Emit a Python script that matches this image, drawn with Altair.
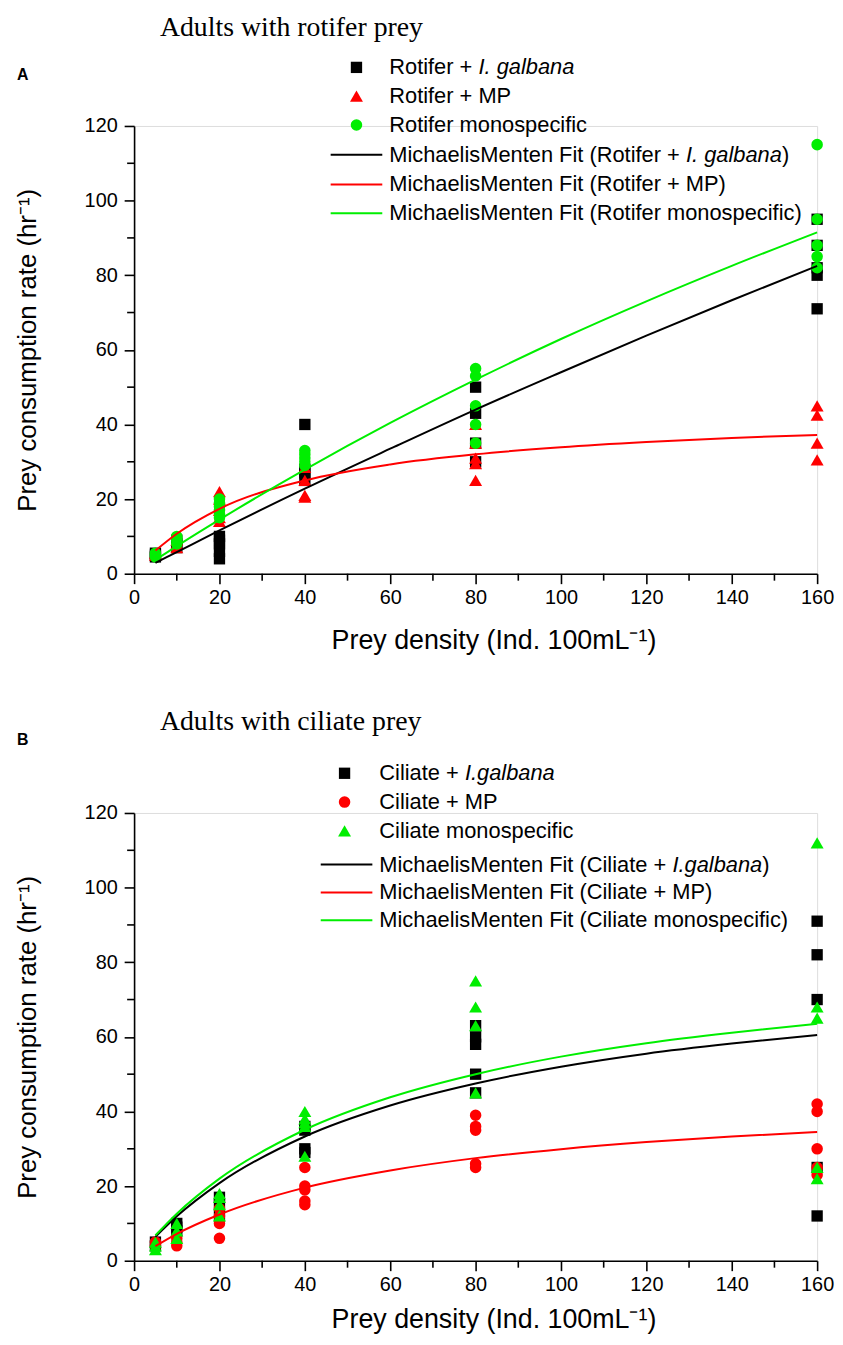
import altair as alt
import pandas as pd

# ---------------- Panel A: adults with rotifer prey ----------------
rot_gal_x = [5, 5, 5, 10, 10, 10, 20, 20, 20, 20, 20, 40, 40, 40, 40, 80, 80, 80, 80, 160, 160, 160, 160, 160]
rot_gal_y = [4.5, 5, 5.5, 7, 8, 9, 4, 6, 8, 9, 10, 40, 28, 27, 25, 50, 43, 35, 30, 95, 88, 82, 80, 71]

rot_mp_x = [5, 5, 10, 10, 10, 20, 20, 20, 20, 20, 40, 40, 40, 40, 80, 80, 80, 80, 80, 160, 160, 160, 160]
rot_mp_y = [5, 5.5, 7, 8, 9, 22, 20, 17, 15, 14, 28.5, 25, 21, 20.5, 40, 35, 31, 29.5, 25, 45, 42.5, 35, 30.5]

rot_mono_x = [5, 5, 5, 10, 10, 10, 10, 20, 20, 20, 20, 20, 20, 40, 40, 40, 40, 40, 80, 80, 80, 80, 80, 160, 160, 160, 160, 160]
rot_mono_y = [4.5, 5, 5.5, 8, 9, 9.5, 10, 15, 16, 17, 18, 19, 20, 29, 30, 31, 32, 33, 55, 53, 45, 40, 35, 115, 95, 88, 85, 82]

# Michaelis-Menten fit curves
fit_x = [5, 10, 20, 40, 60, 80, 100, 120, 140, 160]
rot_gal_fit = [2.9, 5.8, 11.6, 22.8, 33.5, 44, 54, 63.8, 73.3, 82.5]
rot_mp_fit = [6.2, 10.7, 17.4, 25, 29.3, 32, 33.9, 35.3, 36.4, 37.2]
rot_mono_fit = [3.7, 7.4, 14.5, 27.9, 40.4, 52, 62.9, 73, 82.5, 91.5]

# ---------------- Panel B: adults with ciliate prey ----------------
cil_gal_x = [5, 5, 10, 10, 10, 20, 20, 20, 40, 40, 40, 40, 80, 80, 80, 80, 80, 160, 160, 160, 160, 160]
cil_gal_y = [4, 5, 8, 9, 10, 12, 15, 17, 36, 35, 30, 29, 63, 60, 58, 50, 45, 91, 82, 70, 25, 12]

cil_mp_x = [5, 5, 10, 10, 10, 20, 20, 20, 20, 40, 40, 40, 40, 40, 80, 80, 80, 80, 80, 160, 160, 160, 160, 160]
cil_mp_y = [4, 5, 4, 5, 6, 6, 10, 12, 14, 25, 20, 19, 16, 15, 39, 36, 35, 26, 25, 42, 40, 30, 25, 23]

cil_mono_x = [5, 5, 5, 10, 10, 10, 20, 20, 20, 20, 40, 40, 40, 40, 40, 80, 80, 80, 80, 160, 160, 160, 160, 160]
cil_mono_y = [3, 4, 5, 6, 8, 10, 12, 15, 17, 18, 40, 38, 37, 36, 28, 75, 68, 63, 45, 112, 68, 65, 25, 22]

cil_gal_fit = [6.4, 11.9, 20.8, 33.3, 41.6, 47.5, 52, 55.5, 58.2, 60.5]
cil_mp_fit = [3.9, 7.2, 12.4, 19.6, 24.2, 27.5, 29.9, 31.8, 33.3, 34.5]
cil_mono_fit = [6.8, 12.6, 22, 35.1, 43.8, 50, 54.7, 58.3, 61.1, 63.5]

x_major = [0, 20, 40, 60, 80, 100, 120, 140, 160]
x_minor = [10, 30, 50, 70, 90, 110, 130, 150]
y_major = [0, 20, 40, 60, 80, 100, 120]
y_minor = [10, 30, 50, 70, 90, 110]

legend_A = [
    [("Rotifer + ", False), ("I. galbana", True)],
    [("Rotifer + MP", False)],
    [("Rotifer monospecific", False)],
    [("MichaelisMenten Fit (Rotifer + ", False), ("I. galbana", True), (")", False)],
    [("MichaelisMenten Fit (Rotifer + MP)", False)],
    [("MichaelisMenten Fit (Rotifer monospecific)", False)],
]
legend_B = [
    [("Ciliate + ", False), ("I.galbana", True)],
    [("Ciliate + MP", False)],
    [("Ciliate monospecific", False)],
    [("MichaelisMenten Fit (Ciliate + ", False), ("I.galbana", True), (")", False)],
    [("MichaelisMenten Fit (Ciliate + MP)", False)],
    [("MichaelisMenten Fit (Ciliate monospecific)", False)],
]

BLACK = "#000000"
RED = "#ff0000"
GREEN = "#00ee00"
SANS = "Liberation Sans"
SERIF = "Liberation Serif"
W, H = 688, 451
LEG_FS = 22

ARIAL = {" ": 278, "(": 333, ")": 333, "+": 584, ".": 278, "A": 667, "C": 722, "F": 611,
         "I": 278, "M": 833, "P": 667, "R": 722, "a": 556, "b": 556, "c": 500, "e": 556,
         "f": 278, "g": 556, "h": 556, "i": 222, "l": 222, "m": 833, "n": 556, "o": 556,
         "p": 556, "r": 333, "s": 500, "t": 278, "y": 500}


def text_width(s, size):
    return sum(ARIAL.get(c, 556) for c in s) * size / 1000.0


xs = alt.Scale(domain=[0, 160], nice=False, zero=False)
ys = alt.Scale(domain=[0, 120], nice=False, zero=False)

X_TITLE = "Prey density (Ind. 100mL\u207b\u00b9)"
Y_TITLE = "Prey consumption rate (hr\u207b\u00b9)"


def make_x_axis(title_pad):
    return alt.Axis(values=x_major, tickSize=10, tickWidth=1.6, tickColor="black",
                    domainColor="black", domainWidth=1.6, labelFont=SANS, labelFontSize=20,
                    labelColor="black", labelPadding=4, labelFlush=False, grid=False,
                    titleFont=SANS, titleFontSize=27, titleFontWeight="normal",
                    titleColor="black", titlePadding=title_pad, titleX=W / 2 + 18)


y_axis = alt.Axis(values=y_major, tickSize=10, tickWidth=1.6, tickColor="black",
                  domainColor="black", domainWidth=1.6, labelFont=SANS, labelFontSize=20,
                  labelColor="black", labelPadding=7, labelFlush=False, grid=False,
                  titleFont=SANS, titleFontSize=26, titleFontWeight="normal",
                  titleColor="black", titlePadding=44)


def panel(points, fits, legend, shapes, title, letter, title_y, letter_y,
          sym_x, line_x0, line_x1, text_x, rows_y, x_title_pad):
    x_axis = make_x_axis(x_title_pad)

    def xenc():
        return alt.X("x:Q", scale=xs, axis=x_axis, title=X_TITLE)

    def yenc():
        return alt.Y("y:Q", scale=ys, axis=y_axis, title=Y_TITLE)

    layers = []
    # minor ticks
    layers.append(alt.Chart(pd.DataFrame({"x": x_minor})).mark_rule(color="black", strokeWidth=1.6)
                  .encode(x=xenc(), y=alt.value(H), y2=alt.value(H + 7)))
    layers.append(alt.Chart(pd.DataFrame({"y": y_minor})).mark_rule(color="black", strokeWidth=1.6)
                  .encode(y=yenc(), x=alt.value(0), x2=alt.value(-7)))
    # data points
    for (px, py), (shape, color, size) in zip(points, shapes):
        layers.append(alt.Chart(pd.DataFrame({"x": px, "y": py}))
                      .mark_point(shape=shape, filled=True, size=size, color=color, opacity=1)
                      .encode(x=xenc(), y=yenc()))
    # fit curves
    for fy, (_, color, _) in zip(fits, shapes):
        layers.append(alt.Chart(pd.DataFrame({"x": fit_x, "y": fy}))
                      .mark_line(color=color, strokeWidth=2, interpolate="monotone")
                      .encode(x=xenc(), y=yenc()))
    # legend symbols
    for i, (shape, color, size) in enumerate(shapes):
        layers.append(alt.Chart(pd.DataFrame({"k": [0]}))
                      .mark_point(shape=shape, filled=True, size=size, color=color, opacity=1)
                      .encode(x=alt.value(sym_x), y=alt.value(rows_y[i])))
    for i, (_, color, _) in enumerate(shapes):
        layers.append(alt.Chart(pd.DataFrame({"k": [0]}))
                      .mark_rule(color=color, strokeWidth=2)
                      .encode(x=alt.value(line_x0), x2=alt.value(line_x1), y=alt.value(rows_y[i + 3])))
    # legend text (segments, italic where needed)
    segs = []
    for row, parts in zip(rows_y, legend):
        cx = text_x
        for txt, it in parts:
            segs.append({"px": cx, "py": row, "t": txt, "it": it})
            cx += text_width(txt, LEG_FS)
    seg_df = pd.DataFrame(segs)
    for it in (False, True):
        layers.append(alt.Chart(seg_df[seg_df["it"] == it])
                      .mark_text(align="left", baseline="middle", font=SANS, fontSize=LEG_FS,
                                 fontStyle="italic" if it else "normal", color="black")
                      .encode(x=alt.X("px:Q", scale=None, axis=None),
                              y=alt.Y("py:Q", scale=None, axis=None), text="t:N"))
    # panel title and letter
    layers.append(alt.Chart(pd.DataFrame({"t": [title]}))
                  .mark_text(align="left", baseline="middle", font=SERIF, fontSize=28, color="black")
                  .encode(text="t:N", x=alt.value(26), y=alt.value(title_y)))
    layers.append(alt.Chart(pd.DataFrame({"t": [letter]}))
                  .mark_text(align="left", baseline="middle", font=SANS, fontSize=16,
                             fontWeight="bold", color="black")
                  .encode(text="t:N", x=alt.value(-118), y=alt.value(letter_y)))
    return alt.layer(*layers).properties(width=W, height=H)


shapes_A = [("square", BLACK, 130), ("triangle-up", RED, 170), ("circle", GREEN, 135)]
shapes_B = [("square", BLACK, 130), ("circle", RED, 135), ("triangle-up", GREEN, 170)]

pA = panel([(rot_gal_x, rot_gal_y), (rot_mp_x, rot_mp_y), (rot_mono_x, rot_mono_y)],
           [rot_gal_fit, rot_mp_fit, rot_mono_fit], legend_A, shapes_A,
           "Adults with rotifer prey", "A", -99, -51,
           224, 198, 250, 257, [-59, -30, -1, 29, 59, 88], 20)
pB = panel([(cil_gal_x, cil_gal_y), (cil_mp_x, cil_mp_y), (cil_mono_x, cil_mono_y)],
           [cil_gal_fit, cil_mp_fit, cil_mono_fit], legend_B, shapes_B,
           "Adults with ciliate prey", "B", -92, -73,
           212, 188, 240, 247, [-40, -11, 18, 52, 80, 108], 12)

chart = (alt.vconcat(pA, pB, spacing=53)
         .properties(padding={"top": 0, "left": 6, "right": 0, "bottom": 0})
         .configure_view(stroke=None)
         .configure(background="white"))
chart.save("out.html", embed_options={"renderer": "svg", "actions": False})
